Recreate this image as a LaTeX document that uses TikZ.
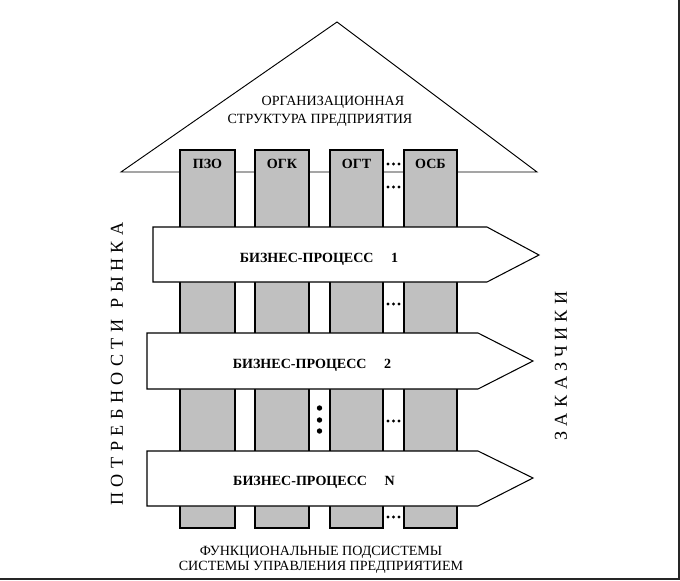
\documentclass[tikz,border=0pt]{standalone}
\usepackage{fontspec}
\setmainfont{Liberation Serif}
\newfontfamily\spacedfont[LetterSpace=30]{Liberation Serif}
\usepackage{xcolor}
\definecolor{colgray}{RGB}{192,192,192}

\begin{document}
\begin{tikzpicture}[x=0.03cm,y=-0.03cm,
    column/.style={draw=black, fill=colgray, line width=1.1pt},
    process/.style={draw=black, fill=white, line width=0.9pt},
    collabel/.style={font=\fontsize{12}{13}\selectfont\bfseries, inner sep=0pt},
    proctext/.style={font=\fontsize{12}{13}\selectfont\bfseries, inner sep=0pt},
    plaintext/.style={font=\fontsize{12}{12.8}\selectfont, inner sep=0pt, align=center},
    sidetext/.style={font=\fontsize{15.5}{16}\selectfont\spacedfont, inner sep=0pt, rotate=90},
    smalldot/.style={fill=black},
    bigdot/.style={fill=black}]
\useasboundingbox (0,0) rectangle (680,580);
% roof
\draw[line width=0.8pt, fill=white] (121,172) -- (337,22) -- (537,172) -- cycle;
\node[plaintext] (org) at (333,102) {ОРГАНИЗАЦИОННАЯ};
\node[plaintext] (struct) at (320,120) {СТРУКТУРА ПРЕДПРИЯТИЯ};
% columns
\foreach \xa/\xb/\nm/\txt in {180/235/pzo/ПЗО, 255/309/ogk/ОГК, 330/383/ogt/ОГТ, 404/457/osb/ОСБ} {
  \draw[column] (\xa,150) rectangle (\xb,528);
  \node[collabel] (\nm) at ({(\xa+\xb)/2},164) {\txt};
}
% business processes
\draw[process] (153,227) -- (487,227) -- (539,255) -- (487,282) -- (153,282) -- cycle;
\node[proctext] (bp1) at (319,259) {БИЗНЕС-ПРОЦЕСС\quad\ 1};
\draw[process] (147,333) -- (478,333) -- (533,361) -- (478,389) -- (147,389) -- cycle;
\node[proctext] (bp2) at (312,365) {БИЗНЕС-ПРОЦЕСС\quad\ 2};
\draw[process] (147,451) -- (478,451) -- (533,478) -- (478,506) -- (147,506) -- cycle;
\node[proctext] (bpn) at (314,482) {БИЗНЕС-ПРОЦЕСС\quad\ N};
% dots
\foreach \yy in {164,187,304,421,517} {
  \foreach \xx in {388,393.5,399}
    \fill[smalldot] (\xx,\yy) circle (1.6);
}
\foreach \yy in {408,420,431}
  \fill[bigdot] (319.5,\yy) circle (2.7);
% side labels
\node[sidetext] (need) at (117,364) {ПОТРЕБНОСТИ\hspace{0.6em}РЫНКА};
\node[sidetext] (cust) at (561,366) {ЗАКАЗЧИКИ};
\node[plaintext] (func) at (321,560) {ФУНКЦИОНАЛЬНЫЕ ПОДСИСТЕМЫ\\СИСТЕМЫ УПРАВЛЕНИЯ ПРЕДПРИЯТИЕМ};
% frame edges
\draw[black!85, line width=1.7pt] (0,579) -- (679,579) -- (679,0);
\end{tikzpicture}
\end{document}
